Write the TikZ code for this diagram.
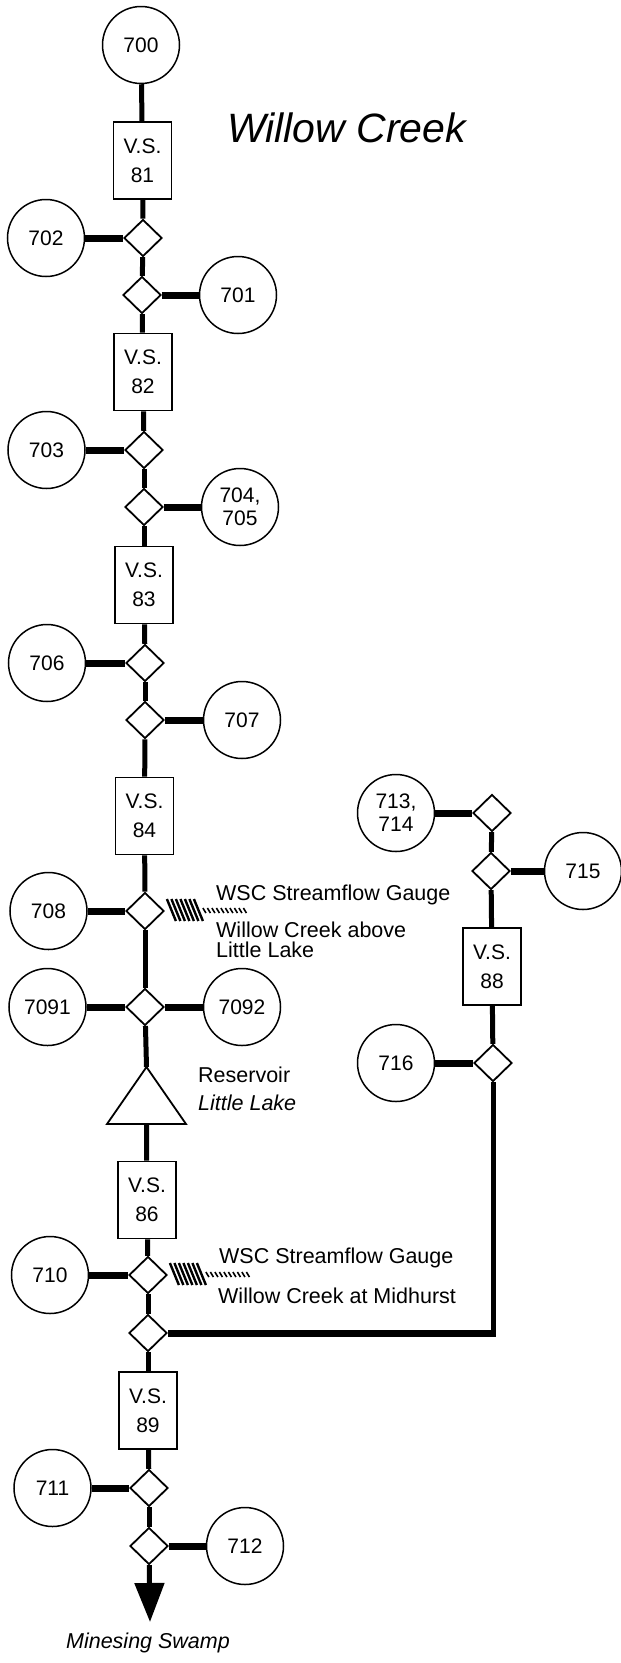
\documentclass[tikz,border=0pt]{standalone}
\usepackage{fontspec}
\setmainfont{Liberation Sans}
\usepackage{tikz}
\usetikzlibrary{shapes.geometric, arrows.meta, positioning, calc}

\tikzset{
  site/.style={circle, draw, line width=1.5pt, minimum size=77pt, inner sep=0pt, align=center, font=\fontsize{21}{23}\selectfont},
  vsbox/.style={rectangle, draw, line width=1.8pt, minimum width=58pt, minimum height=77pt, inner sep=0pt, align=center, font=\fontsize{21}{29}\selectfont},
  junc/.style={diamond, draw, line width=1.8pt, minimum width=38pt, minimum height=37pt, inner sep=0pt},
  trunk/.style={line width=5pt},
  branch/.style={line width=7pt},
  lake/.style={draw, line width=1.8pt, line join=miter},
  txt/.style={anchor=base west, inner sep=0pt, font=\fontsize{21.5}{21.5}\selectfont},
  ital/.style={anchor=base west, inner sep=0pt, font=\fontsize{21.5}{21.5}\selectfont\itshape},
  hatch/.style={line width=2.4pt},
  fine/.style={line width=1.6pt}
}

\begin{document}
\begin{tikzpicture}[x=1pt, y=-1pt]
    \useasboundingbox (0,0) rectangle (621,1663);

    \node[ital, font=\fontsize{41}{41}\selectfont\itshape] (title) at (227,142) {Willow Creek};

    % main stem
    \node[site] (c700) at (141,45) {700};
    \node[vsbox] (vs81) at (142.5,160.5) {V.S.\\81};
    \node[junc] (d702) at (143,238) {};
    \node[site] (c702) at (46,238) {702};
    \node[junc] (d701) at (142,295) {};
    \node[site] (c701) at (238,295) {701};
    \node[vsbox] (vs82) at (143,372) {V.S.\\82};
    \node[junc] (d703) at (144,450) {};
    \node[site] (c703) at (46.5,450) {703};
    \node[junc] (d704) at (144,507) {};
    \node[site] (c704) at (240,507) {704,\\705};
    \node[vsbox] (vs83) at (144,585) {V.S.\\83};
    \node[junc] (d706) at (145,663) {};
    \node[site] (c706) at (47,663) {706};
    \node[junc] (d707) at (145,720) {};
    \node[site] (c707) at (242,720) {707};
    \node[vsbox] (vs84) at (144.5,816) {V.S.\\84};
    \node[junc] (d708) at (145,911) {};
    \node[site] (c708) at (48.5,911) {708};
    \node[junc] (d709) at (145,1007) {};
    \node[site] (c7091) at (47.5,1007) {7091};
    \node[site] (c7092) at (242,1007) {7092};

    % reservoir
    \coordinate (lakeTop) at (146.5,1067);
    \coordinate (lakeBot) at (146.5,1124);
    \draw[lake] (lakeTop) -- ++(39.5,57) -- ++(-79,0) -- cycle;
    \node[txt] (res) at (198,1082) {Reservoir};
    \node[ital] (resname) at (198,1110) {Little Lake};

    \node[vsbox] (vs86) at (147,1200) {V.S.\\86};
    \node[junc] (d710) at (148,1275) {};
    \node[site] (c710) at (50,1275) {710};
    \node[junc] (dmid) at (148,1333) {};
    \node[vsbox] (vs89) at (148,1410.5) {V.S.\\89};
    \node[junc] (d711) at (149,1488) {};
    \node[site] (c711) at (52.5,1488) {711};
    \node[junc] (d712) at (149,1546) {};
    \node[site] (c712) at (245,1546) {712};
    \coordinate (swamp) at (150,1622);
    \node[ital, anchor=base] (swampname) at (148,1648) {Minesing Swamp};

    % side branch
    \node[junc] (d713) at (492,813) {};
    \node[site] (c713) at (396,813) {713,\\714};
    \node[junc] (d715) at (491,871) {};
    \node[site] (c715) at (583,871) {715};
    \node[vsbox] (vs88) at (492,966.5) {V.S.\\88};
    \node[junc] (d716) at (493,1063) {};
    \node[site] (c716) at (396,1063) {716};
    \coordinate (bend) at (493,1333);

    % gauges
    \node[txt] (g1a) at (216,900) {WSC Streamflow Gauge};
    \node[txt] (g1b) at (216,937) {Willow Creek above};
    \node[txt] (g1c) at (216,957) {Little Lake};
    \node[txt] (g2a) at (219,1263) {WSC Streamflow Gauge};
    \node[txt] (g2b) at (218,1303) {Willow Creek at Midhurst};
    \foreach \g in {d708, d710} {
        \foreach \i in {0,...,6}
            \draw[hatch] ([shift={(2+4.5*\i,-12)}]\g.east) -- ++(9,22);
        \foreach \i in {0,...,9}
            \draw[fine] ([shift={(38+4.5*\i,-3)}]\g.east) -- ++(3,5);
    }

    % stream lines
    \foreach \a/\b in {c700/vs81, vs81/d702, d702/d701, d701/vs82, vs82/d703, d703/d704, d704/vs83, vs83/d706, d706/d707, d707/vs84, vs84/d708, d708/d709, d709/lakeTop, lakeBot/vs86, vs86/d710, d710/dmid, dmid/vs89, vs89/d711, d711/d712, d713/d715, d715/vs88, vs88/d716}
        \draw[trunk] (\a) -- (\b);
    \foreach \a/\b in {c702/d702, d701/c701, c703/d703, d704/c704, c706/d706, d707/c707, c708/d708, c7091/d709, d709/c7092, c710/d710, c711/d711, d712/c712, c713/d713, d715/c715, c716/d716}
        \draw[branch] (\a) -- (\b);
    \draw[trunk] (d716) -- ([yshift=-3.5pt]bend);
    \draw[branch] (bend) -- (dmid);
    \draw[trunk, -{Triangle[length=39pt, width=29pt]}] (d712) -- (swamp);
\end{tikzpicture}
\end{document}
